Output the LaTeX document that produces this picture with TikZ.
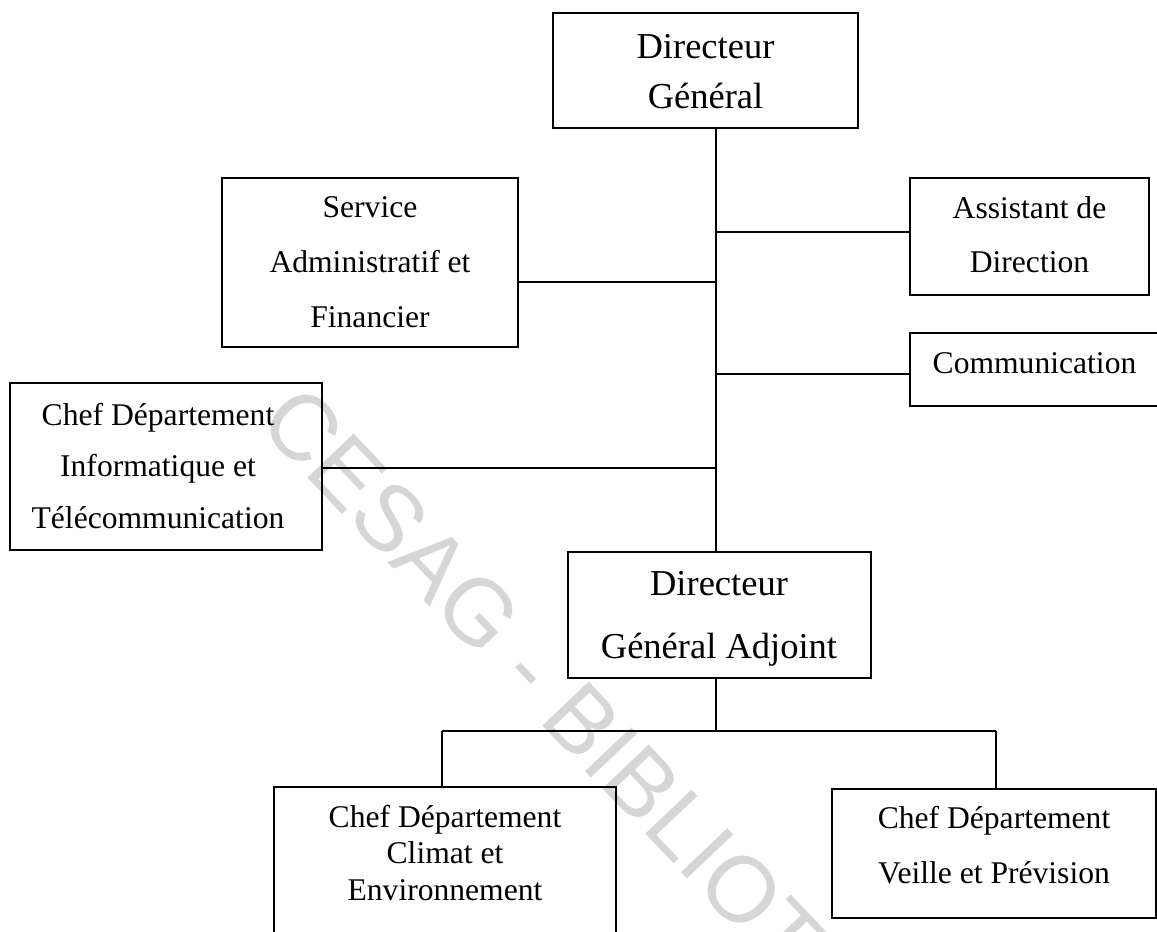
\documentclass[tikz,border=0pt]{standalone}
\usepackage{fontspec}
\setmainfont{Liberation Serif}
\newfontfamily\wmfont{Liberation Sans}
\begin{document}
\begin{tikzpicture}[x=1pt,y=-1pt,
  box/.style={draw, line width=1.5pt, inner sep=0pt},
  lg/.style={font=\fontsize{36.5}{40}\selectfont, inner sep=0pt, anchor=base},
  sm/.style={font=\fontsize{31.6}{36}\selectfont, inner sep=0pt, anchor=base},
  wire/.style={line width=1.5pt},
  wm/.style={font=\wmfont\fontsize{93}{100}\selectfont, text=black!16, inner sep=0pt}]
\useasboundingbox (0,0) rectangle (1157,932);

% watermark
\node[wm, anchor=base west, rotate=-46.5] (wm) at (256,424) {CESAG - BIBLIOTHEQUE};

% boxes
\node[box, minimum width=305pt, minimum height=115pt] (dg)  at (705.5,70.5)  {};
\node[box, minimum width=296pt, minimum height=169pt] (sa)  at (370,262.5)   {};
\node[box, minimum width=239pt, minimum height=117pt] (ad)  at (1029.5,236.5){};
\node[box, minimum width=260pt, minimum height=73pt]  (com) at (1040,369.5)  {};
\node[box, minimum width=312pt, minimum height=167pt] (ci)  at (166,466.5)   {};
\node[box, minimum width=303pt, minimum height=126pt] (dga) at (719.5,615)   {};
\node[box, minimum width=342pt, minimum height=163pt] (cl)  at (445,868.5)   {};
\node[box, minimum width=324pt, minimum height=129pt] (vp)  at (994,853.5)   {};

% texts
\node[lg] (dg1) at (705.5,58)  {Directeur};
\node[lg] (dg2) at (705.5,108) {Général};
\node[sm] (sa1) at (370,217) {Service};
\node[sm] (sa2) at (370,272) {Administratif et};
\node[sm] (sa3) at (370,327) {Financier};
\node[sm] (ad1) at (1029.5,218) {Assistant de};
\node[sm] (ad2) at (1029.5,272) {Direction};
\node[sm] (com1) at (1034.5,373) {Communication};
\node[sm] (ci1) at (158,425) {Chef Département};
\node[sm] (ci2) at (158,476) {Informatique et};
\node[sm] (ci3) at (158,528) {Télécommunication};
\node[lg] (dga1) at (719,595) {Directeur};
\node[lg] (dga2) at (719,658) {Général Adjoint};
\node[sm] (cl1) at (445,827) {Chef Département};
\node[sm] (cl2) at (445,863) {Climat et};
\node[sm] (cl3) at (445,900) {Environnement};
\node[sm] (vp1) at (994,828) {Chef Département};
\node[sm] (vp2) at (994,883) {Veille et Prévision};

% trunk and branches
\coordinate (tk) at (716,0);
\coordinate (jad)  at (716,232);
\coordinate (jsa)  at (716,282);
\coordinate (jcom) at (716,374);
\coordinate (jci)  at (716,468);
\coordinate (jdn)  at (716,731);
\coordinate (jl)   at (442,731);
\coordinate (jr)   at (996,731);

\draw[wire] (dg.south -| tk) -- (dga.north -| tk);
\draw[wire] (jad)  -- (jad -| ad.west);
\draw[wire] (jsa)  -- (jsa -| sa.east);
\draw[wire] (jcom) -- (jcom -| com.west);
\draw[wire] (jci)  -- (jci -| ci.east);
\draw[wire] (dga.south -| tk) -- (jdn);
\draw[wire] (jl) -- (jr);
\draw[wire] (jl) -- (jl |- cl.north);
\draw[wire] (jr) -- (jr |- vp.north);
\end{tikzpicture}
\end{document}
